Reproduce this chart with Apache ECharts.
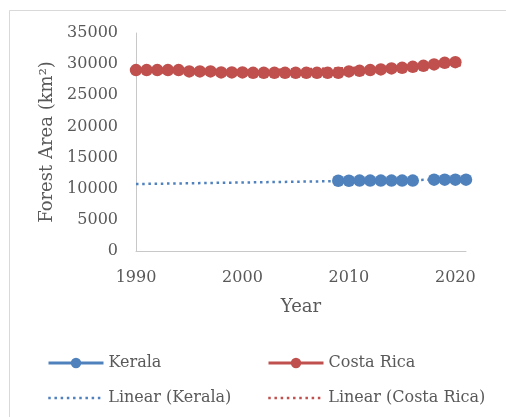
<!DOCTYPE html>
<html>
<head>
<meta charset="utf-8">
<script src="https://cdn.jsdelivr.net/npm/echarts@6/dist/echarts.min.js"></script>
<style>
html,body{margin:0;padding:0;background:#fff;}
#c{width:506px;height:417px;}
</style>
</head>
<body>
<div id="c"></div>
<script>
// Data
var crYears = [1990,1991,1992,1993,1994,1995,1996,1997,1998,1999,2000,2001,2002,2003,2004,2005,2006,2007,2008,2009,2010,2011,2012,2013,2014,2015,2016,2017,2018,2019,2020];
var crValues = [29040,29040,29040,29040,29040,28830,28830,28830,28670,28670,28670,28610,28610,28610,28610,28610,28610,28610,28610,28610,28830,28930,29040,29150,29310,29410,29570,29730,29950,30210,30320];
var keralaYears = [2009,2010,2011,2012,2013,2014,2015,2016,2017,2018,2019,2020,2021];
var keralaValues = [11280,11280,11300,11300,11300,11300,11300,11300,null,11450,11450,11450,11450];
var keralaTrendYears = [1990,2021];
var keralaTrendValues = [10750,11520];
var crTrendYears = [1990,2020.7];
var crTrendValues = [28550,29820];
var yTicks = {min:0, max:35000, interval:5000};
var xTicks = {min:1990, max:2021, interval:10};

function pairs(xs, ys){ return xs.map(function(x,i){ return [x, ys[i]]; }); }

var blue = '#4F81BD', red = '#C0504D';
var font = 'DejaVu Serif';
var txt = '#595959';
var dotStyle = [2.5, 3.7];

var chart = echarts.init(document.getElementById('c'), null, {renderer:'canvas'});
function lg(name, left, top, isTrend){
  var item = {name:name};
  if (isTrend) { item.itemStyle = {opacity:0}; }
  return {data:[item], left:left, top:top, itemWidth:55, itemHeight:13, selectedMode:false,
    lineStyle: isTrend ? {width:2.5, type:dotStyle, cap:'butt'} : {width:3},
    textStyle:{fontFamily:font,fontSize:16,color:txt}};
}
chart.setOption({
  animation:false,
  backgroundColor:'#fff',
  graphic:[{type:'rect', shape:{x:9.5,y:10.5,width:520,height:420}, style:{fill:'none',stroke:'#d9d9d9',lineWidth:1}, z:-10}],
  grid:{left:136, right:40, top:33, bottom:166},
  xAxis:{type:'value', min:xTicks.min, max:xTicks.max, interval:xTicks.interval,
    name:'Year', nameLocation:'middle', nameGap:47,
    nameTextStyle:{fontFamily:font,fontSize:18,color:txt},
    axisLine:{show:true,lineStyle:{color:'#c8c8c8',width:1}}, axisTick:{show:false}, splitLine:{show:false},
    axisLabel:{fontFamily:font,fontSize:16,color:txt,margin:19,
      formatter:function(v){ return (v % 10 === 0) ? String(v) : ''; }}},
  yAxis:{type:'value', min:yTicks.min, max:yTicks.max, interval:yTicks.interval,
    name:'Forest Area (km\u00B2)', nameLocation:'middle', nameGap:68,
    nameTextStyle:{fontFamily:font,fontSize:18,color:txt},
    axisLine:{show:true,lineStyle:{color:'#c8c8c8',width:1}}, axisTick:{show:false}, splitLine:{show:false},
    axisLabel:{fontFamily:font,fontSize:16,color:txt,margin:18,
      formatter:function(v){ return String(v); }}},
  legend:[
    lg('Kerala', 42, 350, false),
    lg('Costa Rica', 262, 350, false),
    lg('Linear (Kerala)', 42, 385, true),
    lg('Linear (Costa Rica)', 262, 385, true)
  ],
  series:[
    {name:'Linear (Kerala)', type:'line', data:pairs(keralaTrendYears,keralaTrendValues), symbol:'none', z:1,
      lineStyle:{color:blue,width:2.5,type:dotStyle,cap:'butt'}, itemStyle:{color:blue}},
    {name:'Linear (Costa Rica)', type:'line', data:pairs(crTrendYears,crTrendValues), symbol:'none', z:1,
      lineStyle:{color:red,width:2.5,type:dotStyle,cap:'butt'}, itemStyle:{color:red}},
    {name:'Kerala', type:'line', data:pairs(keralaYears,keralaValues), symbol:'circle', symbolSize:12.5, z:3,
      connectNulls:false, lineStyle:{color:blue,width:3}, itemStyle:{color:blue}},
    {name:'Costa Rica', type:'line', data:pairs(crYears,crValues), symbol:'circle', symbolSize:12.5, z:3,
      lineStyle:{color:red,width:3}, itemStyle:{color:red}}
  ]
});
</script>
</body>
</html>
